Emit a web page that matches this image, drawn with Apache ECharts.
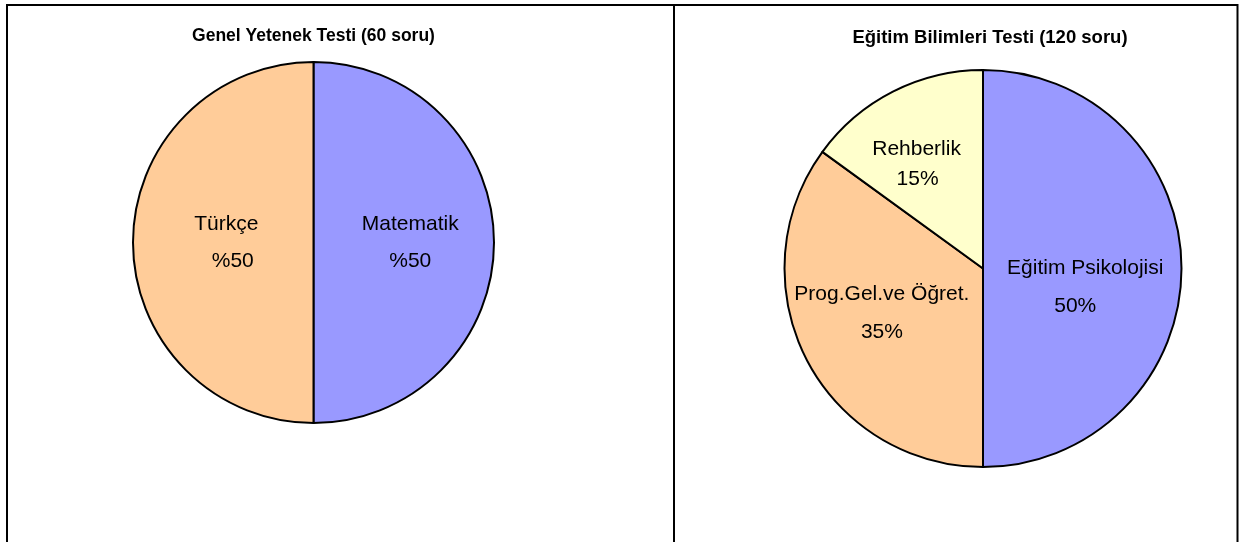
<!DOCTYPE html>
<html>
<head>
<meta charset="utf-8">
<script src="https://cdn.jsdelivr.net/npm/echarts@6/dist/echarts.min.js"></script>
<style>
html,body{margin:0;padding:0;background:#fff;}
#chart{width:1244px;height:542px;}
</style>
</head>
<body>
<div id="chart"></div>
<script>
// ---- data ----
var leftTitle = 'Genel Yetenek Testi (60 soru)';
var leftCategories = ['Matematik', 'Türkçe'];
var leftValues = [50, 50];

var rightTitle = 'Eğitim Bilimleri Testi (120 soru)';
var rightCategories = ['Eğitim Psikolojisi', 'Prog.Gel.ve Öğret.', 'Rehberlik'];
var rightValues = [50, 35, 15];

// ---- styling ----
var FONT = '"Liberation Sans", Arial, sans-serif';
var colorMap = {
  'Matematik': '#9999FF', 'Türkçe': '#FFCC99',
  'Eğitim Psikolojisi': '#9999FF', 'Prog.Gel.ve Öğret.': '#FFCC99', 'Rehberlik': '#FFFFCC'
};
var labelNudge = {
  'Matematik': { off: [3.5, 0], lh: 37.5, vpad: 0 },
  'Türkçe': { off: [6, 0], lh: 37.5, vpad: 13 },
  'Eğitim Psikolojisi': { off: [0, 18.5], lh: 37.5, vpad: -20 },
  'Prog.Gel.ve Öğret.': { off: [-10, -2], lh: 38, vpad: 0 },
  'Rehberlik': { off: [-20, -13], lh: 29.5, vpad: 2 }
};

function buildData(cats, vals, fmt) {
  return cats.map(function (c, i) {
    var nd = labelNudge[c];
    var vp = nd.vpad;
    return {
      name: c,
      value: vals[i],
      itemStyle: { color: colorMap[c] },
      label: {
        offset: nd.off,
        formatter: '{n|' + c + '}\n{v|' + fmt(vals[i]) + '}',
        rich: {
          n: { fontFamily: FONT, fontSize: 21, color: '#000', lineHeight: nd.lh },
          v: { fontFamily: FONT, fontSize: 21, color: '#000', lineHeight: nd.lh,
               padding: vp >= 0 ? [0, 0, 0, vp] : [0, -vp, 0, 0] }
        }
      }
    };
  });
}

var pieCommon = {
  type: 'pie',
  startAngle: 90,
  clockwise: true,
  avoidLabelOverlap: false,
  silent: true,
  animation: false,
  itemStyle: { borderColor: '#000', borderWidth: 2 },
  label: { show: true, position: 'inside', color: '#000', fontFamily: FONT, fontSize: 21 },
  labelLine: { show: false },
  emphasis: { disabled: true }
};

var chart = echarts.init(document.getElementById('chart'), null, { renderer: 'canvas' });
chart.setOption({
  backgroundColor: '#fff',
  animation: false,
  title: [
    { text: leftTitle, left: 313.5, top: 36.5, textAlign: 'center', textVerticalAlign: 'middle', padding: 0,
      textStyle: { fontFamily: FONT, fontWeight: 'bold', fontSize: 17.5, color: '#000' } },
    { text: rightTitle, left: 990, top: 37.5, textAlign: 'center', textVerticalAlign: 'middle', padding: 0,
      textStyle: { fontFamily: FONT, fontWeight: 'bold', fontSize: 18.5, color: '#000' } }
  ],
  graphic: [
    { type: 'rect', shape: { x: 7, y: 5, width: 667, height: 620 },
      style: { fill: 'none', stroke: '#000', lineWidth: 2 }, silent: true },
    { type: 'rect', shape: { x: 674, y: 5, width: 563.5, height: 620 },
      style: { fill: 'none', stroke: '#000', lineWidth: 2 }, silent: true }
  ],
  series: [
    Object.assign({}, pieCommon, {
      name: leftTitle,
      center: [313.5, 242.5],
      radius: [0, 180.5],
      data: buildData(leftCategories, leftValues, function (v) { return '%' + v; })
    }),
    Object.assign({}, pieCommon, {
      name: rightTitle,
      center: [983, 268.5],
      radius: [0, 198.5],
      data: buildData(rightCategories, rightValues, function (v) { return v + '%'; })
    })
  ]
});
</script>
</body>
</html>
